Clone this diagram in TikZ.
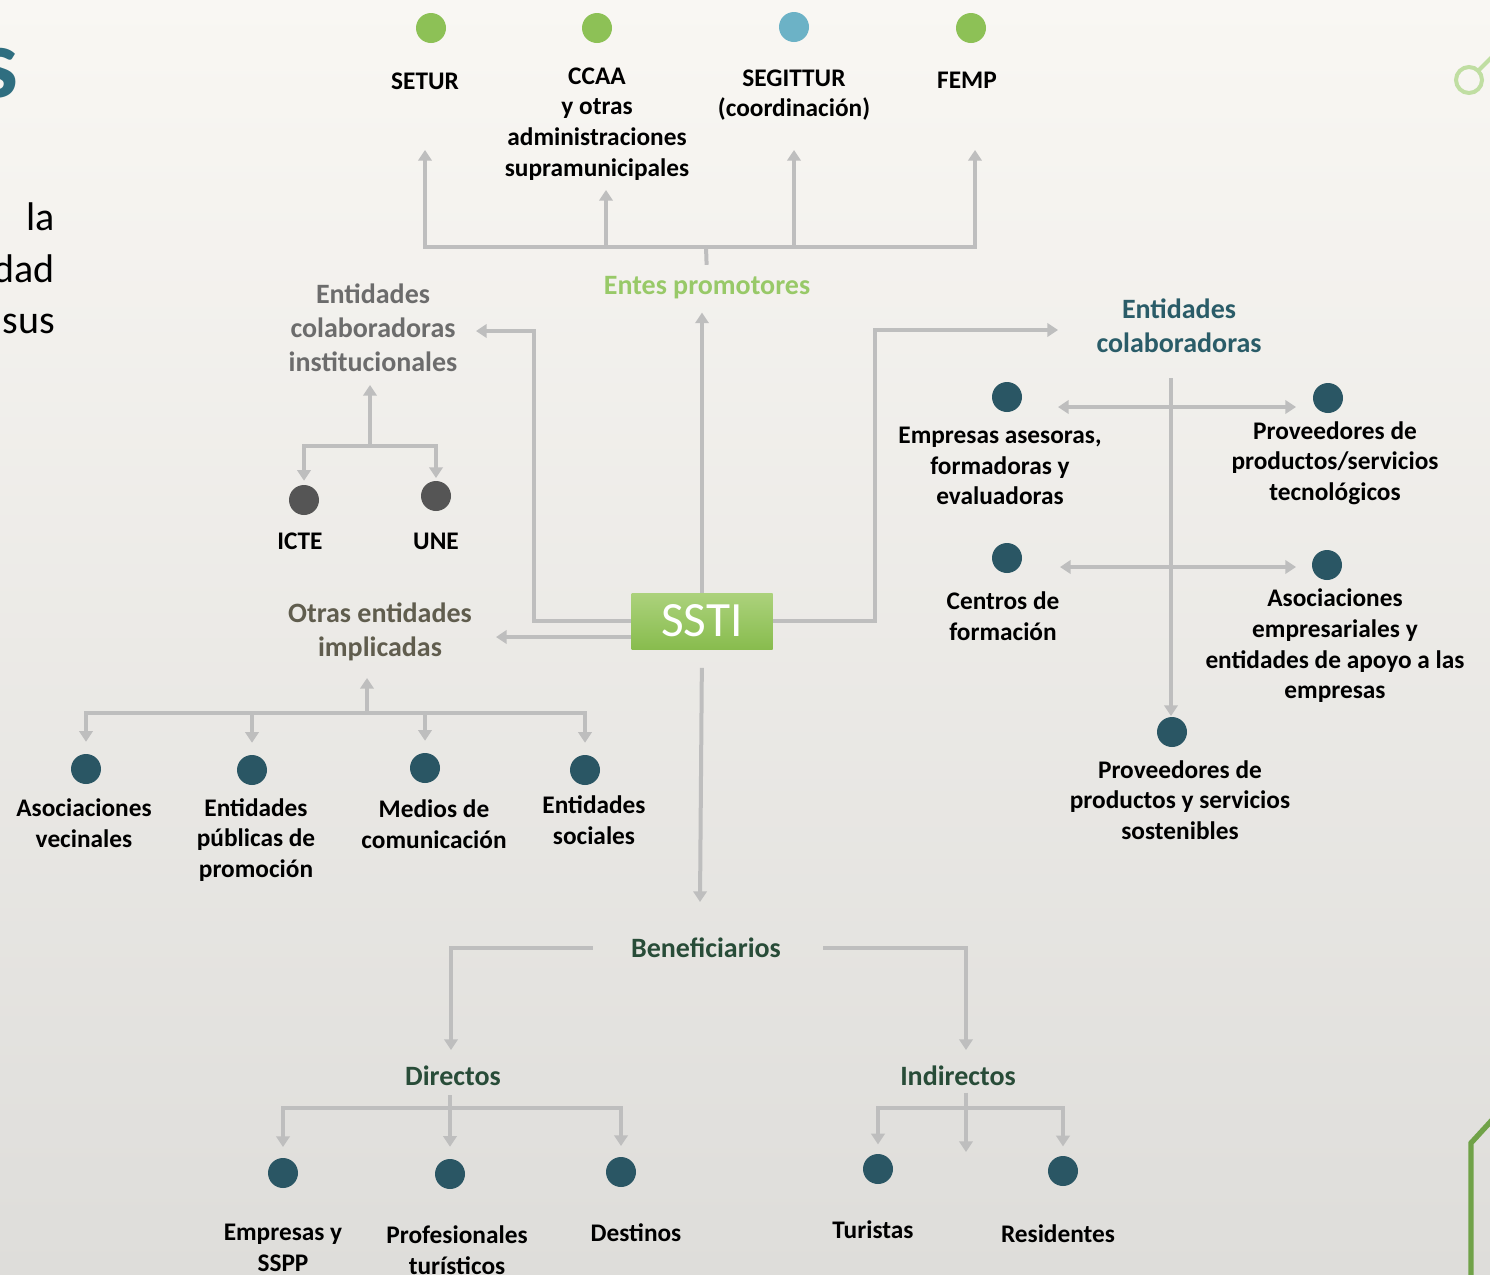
\documentclass[tikz,border=0pt]{standalone}
\usepackage{fontspec}
\setmainfont{Carlito}
\usetikzlibrary{arrows.meta}

\begin{document}
\begin{tikzpicture}[x=0.75pt,y=0.75pt,yscale=-1,xscale=1,
  lbl/.style={font=\fontsize{19}{23}\selectfont\bfseries,align=center,inner sep=0.75pt},
  head/.style={font=\fontsize{21}{25.5}\selectfont\bfseries,align=center,inner sep=0.75pt},
  dot/.style={circle,minimum size=22.5pt,inner sep=0pt},
  gdot/.style={dot,fill={rgb, 255:red, 141; green, 193; blue, 86 }},
  bdot/.style={dot,fill={rgb, 255:red, 108; green, 178; blue, 198 }},
  kdot/.style={dot,fill={rgb, 255:red, 85; green, 85; blue, 85 }},
  tdot/.style={dot,fill={rgb, 255:red, 42; green, 86; blue, 100 }},
  gline/.style={draw={rgb, 255:red, 190; green, 190; blue, 190 },line width=3pt},
  conn/.style={gline,-{Triangle[length=8pt,width=10pt]}},
  conn2/.style={gline,{Triangle[length=8pt,width=10pt]}-{Triangle[length=8pt,width=10pt]}},
  sstibox/.style={rectangle,minimum width=105.75pt,minimum height=42pt,inner sep=0pt,
    top color={rgb, 255:red, 172; green, 210; blue, 124 },bottom color={rgb, 255:red, 136; green, 188; blue, 78 },
    text=white,font=\fontsize{37}{40}\selectfont}
]
%set diagram size: 1490 x 1275
\useasboundingbox (0,0) rectangle (1490,1275);
\shade [top color={rgb, 255:red, 249; green, 247; blue, 243 },bottom color={rgb, 255:red, 222; green, 221; blue, 218 }] (0,0) rectangle (1490,1275);

%Slide fragments at the edges
\node [anchor=base east,inner sep=0pt,font=\fontsize{75}{80}\selectfont\bfseries,text={rgb, 255:red, 47; green, 110; blue, 128 }] (tit) at (19,97) {s};
\node [anchor=base east,inner sep=0pt,font=\fontsize{30}{36}\selectfont] (txa) at (55,230) {la};
\node [anchor=base east,inner sep=0pt,font=\fontsize{30}{36}\selectfont] (txb) at (55,282) {dad};
\node [anchor=base east,inner sep=0pt,font=\fontsize{30}{36}\selectfont] (txc) at (55,333) {sus};
\draw [color={rgb, 255:red, 192; green, 222; blue, 162 },line width=3pt] (1469,80) circle [radius=13] (1478,71) -- (1492,57);
\draw [color={rgb, 255:red, 112; green, 162; blue, 72 },line width=4pt] (1471,1280) -- (1471,1143) -- (1493,1119);

%Shape: SSTI
\node [sstibox] (ssti) at (702,621) {SSTI};

% Entes promotores
\node [gdot] (d-setur) at (431,28) {};
\node [gdot] (d-ccaa) at (597,28) {};
\node [bdot] (d-segittur) at (794,27) {};
\node [gdot] (d-femp) at (971,28) {};
\node [lbl] (setur) at (425,81) {SETUR};
\node [lbl] (ccaa) at (597,124) {CCAA\\y otras\\administraciones\\supramunicipales};
\node [lbl] (segittur) at (794,95) {SEGITTUR\\(coordinación)};
\node [lbl] (femp) at (967,80) {FEMP};
\node [head,text={rgb, 255:red, 152; green, 201; blue, 104 }] (entes) at (707,288) {Entes promotores};

% Entidades colaboradoras institucionales
\node [head,text={rgb, 255:red, 108; green, 108; blue, 108 }] (eci) at (373,328) {Entidades\\colaboradoras\\institucionales};
\node [kdot] (d-icte) at (304,500) {};
\node [kdot] (d-une) at (436,496) {};
\node [lbl] (icte) at (300,541) {ICTE};
\node [lbl] (une) at (436,541) {UNE};

% Otras entidades implicadas
\node [head,text={rgb, 255:red, 96; green, 93; blue, 78 }] (otras) at (380,632) {Otras entidades\\implicadas};
\node [tdot] (d-av) at (86,769) {};
\node [tdot] (d-ep) at (252,770) {};
\node [tdot] (d-mc) at (425,768) {};
\node [tdot] (d-es) at (585,770) {};
\node [lbl] (av) at (84,823) {Asociaciones\\vecinales};
\node [lbl] (ep) at (256,840) {Entidades\\públicas de\\promoción};
\node [lbl] (mc) at (434,824) {Medios de\\comunicación};
\node [lbl] (es) at (594,820) {Entidades\\sociales};

% Entidades colaboradoras
\node [head,text={rgb, 255:red, 42; green, 92; blue, 104 }] (ec) at (1179,326) {Entidades\\colaboradoras};
\node [tdot] (d-ea) at (1007,397) {};
\node [tdot] (d-pt) at (1328,398) {};
\node [tdot] (d-cf) at (1007,558) {};
\node [tdot] (d-ae) at (1327,565) {};
\node [tdot] (d-ps) at (1172,732) {};
\node [lbl] (ea) at (1000,466) {Empresas asesoras,\\formadoras y\\evaluadoras};
\node [lbl] (pt) at (1335,463) {Proveedores de\\productos/servicios\\tecnológicos};
\node [lbl] (cf) at (1003,616) {Centros de\\formación};
\node [lbl] (ae) at (1335,646) {Asociaciones\\empresariales y\\entidades de apoyo a las\\empresas};
\node [lbl] (ps) at (1180,800) {Proveedores de\\productos y servicios\\sostenibles};

% Beneficiarios
\node [head,text={rgb, 255:red, 40; green, 76; blue, 56 }] (benef) at (706,948) {Beneficiarios};
\node [head,text={rgb, 255:red, 40; green, 76; blue, 56 }] (dir) at (453,1076) {Directos};
\node [head,text={rgb, 255:red, 40; green, 76; blue, 56 }] (ind) at (958,1076) {Indirectos};
\node [tdot] (d-em) at (283,1173) {};
\node [tdot] (d-pr) at (450,1174) {};
\node [tdot] (d-de) at (621,1172) {};
\node [tdot] (d-tu) at (878,1169) {};
\node [tdot] (d-re) at (1063,1171) {};
\node [lbl] (em) at (283,1248) {Empresas y\\SSPP};
\node [lbl] (pr) at (457,1250) {Profesionales\\turísticos};
\node [lbl] (de) at (636,1233) {Destinos};
\node [lbl] (tu) at (873,1230) {Turistas};
\node [lbl] (re) at (1058,1234) {Residentes};

%Connectors
\coordinate (pbus) at (706,247);
\coordinate (setur-in) at (425,150);
\coordinate (ccaa-in) at (606,190);
\coordinate (segittur-in) at (794,150);
\coordinate (femp-in) at (975,150);
\draw [gline,shorten <=8pt] (entes.north) -- (pbus);
\draw [conn] (pbus) -| (setur-in);
\draw [conn] (pbus) -| (femp-in);
\draw [conn] (ccaa-in |- pbus) -- (ccaa-in);
\draw [conn] (segittur-in |- pbus) -- (segittur-in);
\draw [conn,shorten >=9pt] (ssti.north) -- (ssti.north |- entes.south);

\coordinate (eci-in) at (476,331);
\coordinate (ibus) at (370,446);
\coordinate (eci-up) at (370,385);
\draw [conn] (ssti.west) -| (534,331) -- (eci-in);
\draw [conn] (ibus) -- (eci-up);
\draw [conn,shorten >=3pt] (ibus) -| (d-icte);
\draw [conn,shorten >=2pt] (ibus) -| (d-une);

\coordinate (otras-in) at (496,637);
\coordinate (obus) at (367,713);
\coordinate (otras-up) at (367,678);
\draw [conn] (ssti.west |- otras-in) -- (otras-in);
\draw [conn] (obus) -- (otras-up);
\draw [conn,shorten >=9pt] (obus) -| (d-av);
\draw [conn,shorten >=9pt] (obus) -| (d-es);
\draw [conn,shorten >=9pt] (obus -| d-ep) -- (d-ep);
\draw [conn,shorten >=9pt] (obus -| d-mc) -- (d-mc);

\coordinate (ec-in) at (1058,330);
\coordinate (ectop) at (1171,378);
\draw [conn] (ssti.east) -| (875,330) -- (ec-in);
\draw [conn,shorten >=12pt] (ectop) -- (ectop |- d-ps);
\coordinate (ea-in) at (1058,407);
\coordinate (pt-in) at (1296,407);
\coordinate (cf-in) at (1060,567);
\coordinate (ae-in) at (1296,567);
\draw [conn2] (ea-in) -- (pt-in);
\draw [conn2] (cf-in) -- (ae-in);

\coordinate (benef-in) at (700,902);
\coordinate (dir-in) at (451,1050);
\coordinate (ind-in) at (966,1050);
\draw [conn,shorten <=14pt] (ssti.south) -- (benef-in);
\draw [conn,shorten <=28pt] (benef.west) -| (dir-in);
\draw [conn,shorten <=31pt] (benef.east) -| (ind-in);

\coordinate (dbus) at (450,1108);
\draw [conn,shorten <=6pt,shorten >=9pt] (dbus |- dir.south) -- (d-pr);
\draw [conn,shorten >=8pt] (dbus) -| (d-em);
\draw [conn,shorten >=8pt] (dbus) -| (d-de);

\coordinate (ibus2) at (966,1108);
\coordinate (ind-down) at (966,1152);
\draw [conn,shorten <=4pt] (ibus2 |- ind.south) -- (ind-down);
\draw [conn,shorten >=7pt] (ibus2) -| (d-tu);
\draw [conn,shorten >=7pt] (ibus2) -| (d-re);

\end{tikzpicture}
\end{document}
